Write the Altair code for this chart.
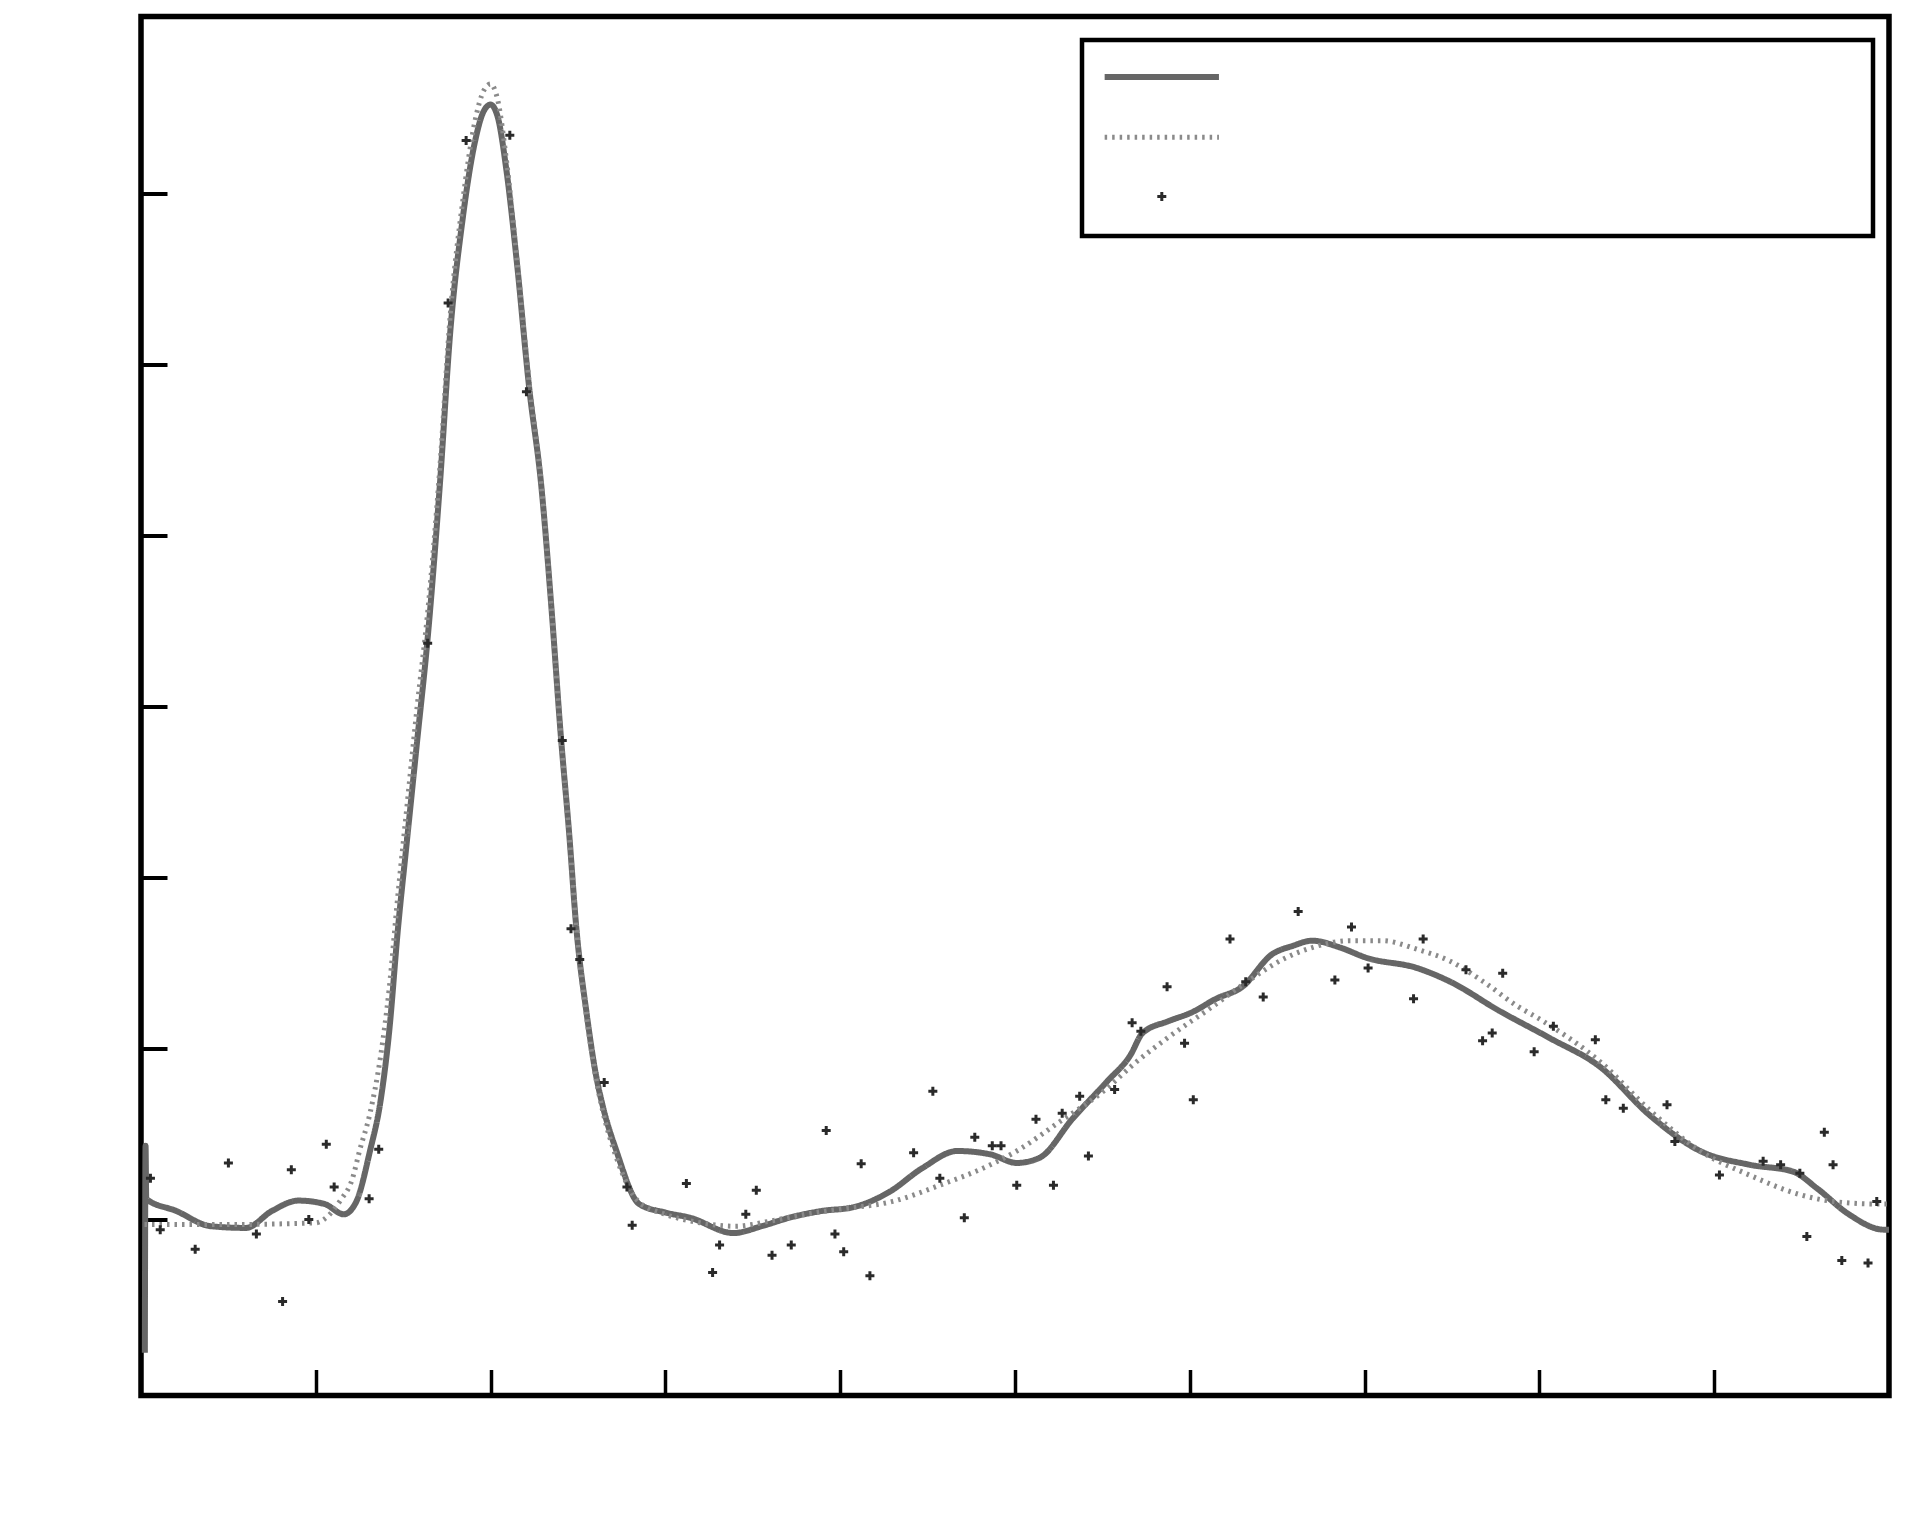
import altair as alt
import pandas as pd

# ---------------- data ----------------
SERIES = ["fit", "model", "data"]

solid_x = [0.022, 0.026, 0.03, 0.2, 0.4, 0.6, 0.75, 0.9, 1.05, 1.16, 1.23, 1.31, 1.37,
           1.42, 1.47, 1.52, 1.58, 1.64, 1.71, 1.77, 1.84, 1.91, 1.96, 2.0, 2.04, 2.09,
           2.15, 2.22, 2.29, 2.35, 2.40, 2.45, 2.49, 2.55, 2.60, 2.64, 2.72, 2.85, 3.0,
           3.14, 3.39, 3.55, 3.71, 3.9, 4.07, 4.28, 4.47, 4.67, 4.86, 5.01, 5.14, 5.33,
           5.53, 5.66, 5.73, 5.88, 6.01, 6.15, 6.30, 6.47, 6.59, 6.70, 6.86, 7.01, 7.30,
           7.49, 7.77, 8.06, 8.35, 8.63, 8.92, 9.20, 9.45, 9.59, 9.77, 9.97, 10.0]
solid_y = [-0.78, 0.43, 0.12, 0.05, -0.04, -0.05, 0.05, 0.11, 0.09, 0.03, 0.10, 0.40, 0.69,
           1.1, 1.7, 2.2, 2.8, 3.4, 4.3, 5.2, 5.85, 6.3, 6.48, 6.52, 6.45, 6.14,
           5.6, 4.87, 4.29, 3.55, 2.85, 2.25, 1.71, 1.2, 0.86, 0.67, 0.40, 0.09, 0.04,
           0.01, -0.08, -0.04, 0.01, 0.05, 0.07, 0.16, 0.30, 0.40, 0.38, 0.33, 0.36, 0.59,
           0.81, 0.96, 1.09, 1.16, 1.21, 1.29, 1.36, 1.55, 1.60, 1.63, 1.59, 1.53, 1.47,
           1.39, 1.22, 1.06, 0.89, 0.61, 0.40, 0.32, 0.28, 0.18, 0.03, -0.06, -0.06]

dot_x = [0.02, 0.5, 1.0, 1.08, 1.14, 1.21, 1.25, 1.31, 1.37, 1.42, 1.47, 1.52, 1.58, 1.64,
         1.71, 1.77, 1.84, 1.91, 1.96, 2.0, 2.04, 2.09, 2.15, 2.22, 2.29, 2.35, 2.40, 2.45,
         2.49, 2.55, 2.60, 2.64, 2.72, 2.85, 3.0, 3.2, 3.4, 3.6, 3.8, 4.0, 4.3, 4.57, 4.84,
         5.01, 5.24, 5.53, 5.67, 5.87, 6.11, 6.30, 6.55, 6.70, 6.92, 7.10, 7.30, 7.49, 7.68,
         7.87, 8.02, 8.35, 8.63, 8.92, 9.20, 9.49, 9.68, 9.93, 10.0]
dot_y = [-0.03, -0.03, -0.02, 0.03, 0.11, 0.24, 0.40, 0.62, 0.95, 1.35, 1.9, 2.4, 3.0, 3.55,
         4.4, 5.3, 5.95, 6.42, 6.6, 6.64, 6.55, 6.2, 5.62, 4.9, 4.3, 3.55, 2.85, 2.25,
         1.71, 1.18, 0.84, 0.64, 0.36, 0.10, 0.03, -0.02, -0.04, -0.01, 0.03, 0.06, 0.105, 0.20, 0.31,
         0.40, 0.56, 0.77, 0.90, 1.06, 1.23, 1.37, 1.53, 1.59, 1.63, 1.63, 1.58, 1.51, 1.39,
         1.25, 1.16, 0.92, 0.64, 0.40, 0.26, 0.145, 0.105, 0.09, 0.09]

pts_x = [0.054, 0.11, 0.31, 0.50, 0.66, 0.81, 0.86, 0.96, 1.06, 1.105, 1.305, 1.36,
         1.64, 1.757, 1.86, 2.11, 2.205, 2.41, 2.46, 2.51, 2.65, 2.78, 2.81,
         3.12, 3.27, 3.31, 3.46, 3.52, 3.61, 3.72, 3.92, 3.97, 4.02, 4.12, 4.17,
         4.42, 4.53, 4.57, 4.71, 4.77, 4.87, 4.92, 5.01, 5.12, 5.22, 5.27, 5.37, 5.42, 5.57,
         5.67, 5.72, 5.87, 5.97, 6.02, 6.23, 6.32, 6.42, 6.62, 6.83, 6.925, 7.02, 7.28, 7.335,
         7.58, 7.675, 7.73, 7.79, 7.97, 8.08, 8.32,
         8.38, 8.48, 8.73, 8.775, 9.03, 9.28, 9.38, 9.49, 9.53, 9.63, 9.68, 9.73, 9.88, 9.93]
pts_y = [0.24, -0.06, -0.175, 0.33, -0.085, -0.48, 0.29, 0.00, 0.44, 0.19, 0.12, 0.41,
         3.37, 5.36, 6.31, 6.34, 4.84, 2.80, 1.70, 1.52, 0.80, 0.19, -0.035,
         0.21, -0.31, -0.15, 0.03, 0.17, -0.21, -0.15, 0.52, -0.085, -0.19, 0.325, -0.33,
         0.39, 0.75, 0.24, 0.01, 0.48, 0.43, 0.43, 0.20, 0.585, 0.20, 0.62, 0.72, 0.37, 0.76,
         1.15, 1.10, 1.36, 1.03, 0.70, 1.64, 1.39, 1.30, 1.80, 1.40, 1.71, 1.47, 1.29, 1.64,
         1.46, 1.045, 1.09, 1.44, 0.98, 1.13, 1.05,
         0.70, 0.65, 0.67, 0.455, 0.26, 0.34, 0.32, 0.27, -0.10, 0.51, 0.32, -0.24, -0.255, 0.105]

X_TICKS = [1, 2, 3, 4, 5, 6, 7, 8, 9]
Y_TICKS = [0, 1, 2, 3, 4, 5, 6]
X_DOMAIN = [0, 10]
Y_DOMAIN = [-1.03, 7.035]

# ---------------- tables ----------------
rows = []
for i, (x, y) in enumerate(zip(solid_x, solid_y)):
    rows.append({"series": "fit", "x": x, "y": y, "i": i})
for i, (x, y) in enumerate(zip(dot_x, dot_y)):
    rows.append({"series": "model", "x": x, "y": y, "i": i})
lines_df = pd.DataFrame(rows)
pts_df = pd.DataFrame({"series": "data", "x": pts_x, "y": pts_y})

# ---------------- styling ----------------
LINE_PATH = "M-12.7,0H12.7"
PLUS_PATH = "M-1,0H1M0,-1V1"
color_scale = alt.Scale(domain=SERIES, range=["#666666", "#8a8a8a", "#2a2a2a"])
dash_scale = alt.Scale(domain=SERIES, range=[[1, 0], [2.5, 5], [1, 0]])
width_scale = alt.Scale(type="ordinal", domain=SERIES, range=[6, 5, 3])
shape_scale = alt.Scale(domain=SERIES, range=[LINE_PATH, LINE_PATH, PLUS_PATH])

x_enc = alt.X("x:Q", scale=alt.Scale(domain=X_DOMAIN, nice=False, zero=False),
              axis=alt.Axis(values=X_TICKS, offset=-26, tickSize=26, tickWidth=3.5,
                            tickColor="black", domain=False, labels=False, grid=False,
                            title=None))
y_enc = alt.Y("y:Q", scale=alt.Scale(domain=Y_DOMAIN, nice=False, zero=False),
              axis=alt.Axis(values=Y_TICKS, offset=-26, tickSize=26, tickWidth=4,
                            tickColor="black", domain=False, labels=False, grid=False,
                            title=None))

lines = alt.Chart(lines_df).mark_line(interpolate="monotone", clip=True).encode(
    x=x_enc,
    y=y_enc,
    color=alt.Color("series:N", scale=color_scale, legend=None),
    strokeDash=alt.StrokeDash("series:N", scale=dash_scale, legend=None),
    strokeWidth=alt.StrokeWidth("series:N", scale=width_scale, legend=None),
    order=alt.Order("i:Q"),
)

leg = alt.Legend(title=None, labelExpr="''")
points = alt.Chart(pts_df).mark_point(filled=False, opacity=1, size=81, clip=True).encode(
    x=x_enc,
    y=y_enc,
    color=alt.Color("series:N", scale=color_scale, legend=leg),
    shape=alt.Shape("series:N", scale=shape_scale, legend=leg),
    strokeDash=alt.StrokeDash("series:N", scale=dash_scale, legend=leg),
    strokeWidth=alt.StrokeWidth("series:N", scale=width_scale, legend=leg),
)

chart = alt.layer(lines, points).resolve_legend(
    color="independent", shape="independent",
    strokeDash="independent", strokeWidth="independent",
).properties(
    width=1748,
    height=1379,
    autosize=alt.AutoSizeParams(type="none"),
    padding={"left": 133, "top": 8.5, "right": 10, "bottom": 10},
).configure_view(
    stroke="black", strokeWidth=5.5
).configure_legend(
    orient="none", legendX=941, legendY=23.5, direction="vertical",
    padding=29, strokeColor="black", strokeWidth=4.5, fillColor="white",
    cornerRadius=0, labelFontSize=16, labelOffset=674, rowPadding=38.2,
    symbolOffset=42.8, symbolSize=81,
)

chart.save("out.html", embed_options={"renderer": "svg", "actions": False})
